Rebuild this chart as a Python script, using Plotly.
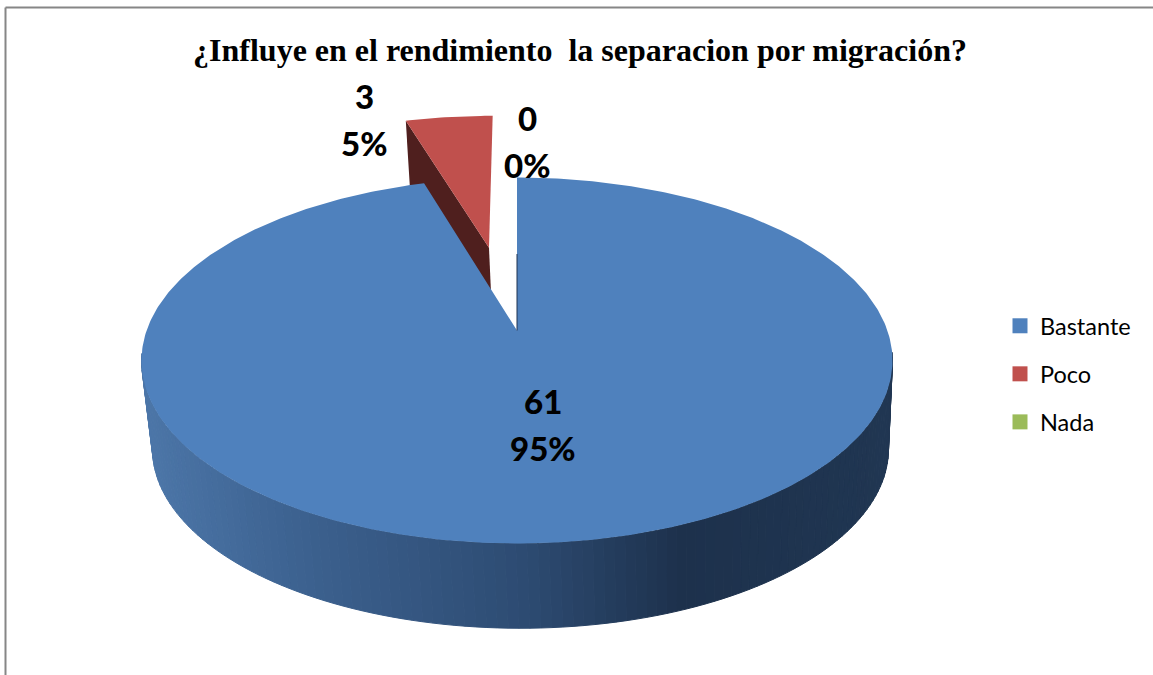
import numpy as np
import plotly.graph_objects as go

# ---------- data ----------
categories = ["Bastante", "Poco", "Nada"]
values = [61, 3, 0]
title_text = "¿Influye en el rendimiento  la separacion por migración?"

# ---------- style ----------
slice_colors = ["#4F81BD", "#C0504D", "#9BBB59"]
wall_dark_red = "#4F1F1E"
W, H = 1153, 675

# projected-disc geometry of the 3D pie
AX, AY = 517.0, 330.5      # projected pie centre
A, B, K = 370.4, 178.0, 0.164
EXPLODE = {1: 0.51}
EXPLODE_TILT = np.radians(0.8)
DEPTH_SHIFT_Y, DEPTH_SCALE = 88.5, 0.98
WIDE_X, WIDE_Y = 517.5, 360.0
BOTTOM_CX = 521.0


def project(u, v):
    d = 1 + K * v
    return AX + A * u / d, AY - B * v / d


def drop(x, y):
    return BOTTOM_CX + (x - WIDE_X) * DEPTH_SCALE, WIDE_Y + DEPTH_SHIFT_Y + (y - WIDE_Y) * DEPTH_SCALE


def slice_disc(a0, a1, off=0.0):
    mid = (a0 + a1) / 2 - EXPLODE_TILT
    ou, ov = off * np.sin(mid), off * np.cos(mid)
    t = np.linspace(a0, a1, max(2, int(abs(a1 - a0) * 80)))
    return np.sin(t) + ou, np.cos(t) + ov, ou, ov


def lerp_color(x):
    stops_x = [142, 300, 525, 680, 893]
    r = np.interp(x, stops_x, [0x4C, 0x3C, 0x2D, 0x1D, 0x20])
    g = np.interp(x, stops_x, [0x76, 0x61, 0x4B, 0x31, 0x36])
    b = np.interp(x, stops_x, [0xA8, 0x8F, 0x72, 0x4C, 0x52])
    return f"rgb({r:.0f},{g:.0f},{b:.0f})"


def poly(x, y, color, line=0):
    return go.Scatter(x=list(x), y=list(y), mode="lines", fill="toself", fillcolor=color,
                      line=dict(color=color, width=line), hoverinfo="skip", showlegend=False)


total = sum(values)
angles = np.cumsum([0] + values) / total * 2 * np.pi
fig = go.Figure()

# small slices first (they sit behind the big one)
for i in range(len(values) - 1, -1, -1):
    if i == 0 or values[i] == 0:
        continue
    a0, a1 = angles[i], angles[i + 1]
    u, v, ou, ov = slice_disc(a0, a1, EXPLODE.get(i, 0.0))
    ax, ay = project(np.array([ou]), np.array([ov]))
    x, y = project(u, v)
    # visible cut face on the left-hand edge of the exploded slice
    ex, ey = x[0], y[0]
    bx0, by0 = drop(ax[0], ay[0])
    bx1, by1 = drop(ex, ey)
    fig.add_trace(poly([ax[0], ex, bx1, bx0, ax[0]], [ay[0], ey, by1, by0, ay[0]], wall_dark_red))
    fig.add_trace(poly(np.r_[ax, x, ax], np.r_[ay, y, ay], slice_colors[i]))

# big slice: outer wall, then top face, then the thin inner cut edge
a0, a1 = angles[0], angles[1]
u, v, _, _ = slice_disc(a0, a1)
x, y = project(u, v)
mask = y >= WIDE_Y - 8
xf, yf = x[mask], y[mask]
bxf, byf = drop(xf, yf)
step = 2
for j in range(0, len(xf) - 1, step):
    k = min(j + step, len(xf) - 1)
    sx = np.r_[xf[j:k + 1], bxf[j:k + 1][::-1]]
    sy = np.r_[yf[j:k + 1], byf[j:k + 1][::-1]]
    fig.add_trace(poly(np.r_[sx, sx[0]], np.r_[sy, sy[0]], lerp_color((xf[j] + xf[k]) / 2), 1))

ax, ay = project(np.array([0.0]), np.array([0.0]))
fig.add_trace(poly(np.r_[ax, x, ax], np.r_[ay, y, ay], slice_colors[0]))
fig.add_trace(go.Scatter(x=[ax[0], (ax[0] + x[0]) / 2], y=[ay[0], (ay[0] + y[0]) / 2], mode="lines",
                         line=dict(color="#1E3350", width=1), hoverinfo="skip", showlegend=False))

# legend entries
for i, name in enumerate(categories):
    fig.add_trace(go.Scatter(x=[None], y=[None], mode="markers", name=name, legendgroup=name,
                             marker=dict(symbol="square", size=15, color=slice_colors[i])))

# data labels
label_pos = [(543, 401, 448), (364, 96, 143), (527, 118, 165)]
annotations = []
for val, (lx, ly1, ly2) in zip(values, label_pos):
    for txt, ly in ((str(val), ly1), (f"{round(100 * val / total)}%", ly2)):
        annotations.append(dict(x=lx, y=ly, xref="x", yref="y", text=txt, showarrow=False,
                                font=dict(family="Lato", size=33, color="#000000", weight=900),
                                xanchor="center", yanchor="middle"))

fig.update_layout(
    width=W, height=H, autosize=False,
    margin=dict(l=0, r=0, t=0, b=0),
    paper_bgcolor="#FFFFFF", plot_bgcolor="#FFFFFF",
    xaxis=dict(range=[0, W], visible=False, fixedrange=True),
    yaxis=dict(range=[H, 0], visible=False, fixedrange=True),
    title=dict(text=title_text, x=580 / W, xanchor="center", y=1 - 50 / H, yanchor="middle",
               font=dict(family="Liberation Serif", size=32, color="#000000", weight="bold")),
    legend=dict(x=1000 / W, y=1 - 304 / H, xanchor="left", yanchor="top", tracegroupgap=14.5,
                itemsizing="trace", bgcolor="rgba(0,0,0,0)",
                font=dict(family="Lato", size=23.5, color="#000000")),
    annotations=annotations,
    hovermode=False,
    shapes=[
        dict(type="line", xref="x", yref="y", x0=5.5, x1=5.5, y0=7.5, y1=H, line=dict(color="#868686", width=2)),
        dict(type="line", xref="x", yref="y", x0=5.5, x1=W, y0=7.5, y1=7.5, line=dict(color="#868686", width=2)),
    ],
)
fig.write_html("out.html", config={"displayModeBar": False},
               post_script="document.body.style.margin='0';document.documentElement.style.overflow='hidden';")
